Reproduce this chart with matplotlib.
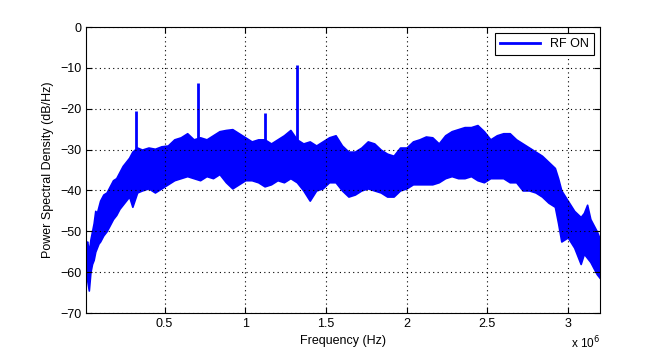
import matplotlib.pyplot as plt
import numpy as np

plt.rcParams['font.family'] = ['Liberation Sans', 'DejaVu Sans']

# frequency (MHz) and envelope of the PSD trace (dB/Hz)
freq_mhz = [0.0125, 0.02, 0.03, 0.04, 0.05, 0.06, 0.07, 0.08, 0.09, 0.10, 0.12, 0.14, 0.16, 0.18,
            0.20, 0.22, 0.24, 0.26, 0.28, 0.30, 0.33, 0.36, 0.40, 0.44, 0.48, 0.52, 0.56, 0.60,
            0.64, 0.68, 0.72, 0.76, 0.80, 0.84, 0.88, 0.92, 0.96, 1.00, 1.04, 1.08, 1.12, 1.16,
            1.20, 1.24, 1.28, 1.32, 1.36, 1.40, 1.44, 1.48, 1.52, 1.56, 1.60, 1.64, 1.68, 1.72,
            1.76, 1.80, 1.84, 1.88, 1.92, 1.96, 2.00, 2.04, 2.08, 2.12, 2.16, 2.20, 2.24, 2.28,
            2.32, 2.36, 2.40, 2.44, 2.48, 2.52, 2.56, 2.60, 2.64, 2.68, 2.72, 2.76, 2.80, 2.84,
            2.88, 2.92, 2.94, 2.96, 3.00, 3.04, 3.08, 3.10, 3.12, 3.14, 3.16, 3.18, 3.20]

psd_upper = [-53, -52.5, -55, -52, -50, -48, -45, -45.5, -44, -42.5, -41, -40.5, -39, -37.5,
             -37, -35.5, -34, -33, -32, -30.5, -29.5, -30, -29.5, -29.8, -29.2, -29, -27.5, -27,
             -26, -27.5, -27, -27.5, -26.5, -25.5, -25.2, -25, -26, -27, -28, -27.5, -27.5, -28.5,
             -27.5, -26.5, -25.2, -27.5, -28.5, -28, -29, -28, -27, -26.5, -29, -30.5, -30.5, -29.5,
             -28, -28.5, -30, -31, -31.5, -29.5, -29.5, -28, -27.5, -26.8, -27, -28.5, -26.5, -25.5,
             -25, -24.5, -24.5, -24, -25.5, -27.5, -26.5, -26, -26, -27.5, -28.5, -29.5, -30.5, -31.5,
             -33, -34.5, -37, -40, -42.5, -45, -46.5, -45.5, -43.5, -47, -48.5, -50, -52]

psd_lower = [-61, -62, -64.5, -60, -58, -57, -55, -54, -53, -52.5, -51, -50, -48.5, -47,
             -46, -44.5, -43.5, -42.5, -41.5, -44, -40.5, -40, -39.5, -40.5, -39.5, -38.5, -37.5, -37,
             -36.5, -37, -37.5, -36.5, -37, -36, -38, -39.5, -38.5, -37.5, -37.5, -38, -39, -38.5,
             -37.5, -38, -37, -38, -40, -42.5, -40, -39.5, -38, -38, -40, -41.5, -41, -40,
             -39.5, -40, -40.5, -41.5, -41.5, -40, -39.5, -38.5, -38.5, -38.5, -38.5, -38, -37, -36.5,
             -37, -37, -36.5, -37.5, -38, -37, -37, -37, -38, -38, -40, -40, -40.5, -41.5,
             -43, -44, -48, -52.5, -51.5, -54, -58, -55.5, -56.5, -57.5, -59, -60.5, -61.5]

# narrow tones sticking out of the noise floor
spike_mhz = [0.321, 0.71, 1.122, 1.32]
spike_db = [-20.5, -13.8, -21, -9.3]
spike_base = [-32, -28, -29, -28]

f = np.array(freq_mhz) * 1e6
blue = (0, 0, 1)

fig = plt.figure(figsize=(6.63, 3.54), dpi=100)
ax = fig.add_axes([0.1297, 0.1158, 0.7753, 0.8079])

ax.fill_between(f, psd_lower, psd_upper, color=blue, linewidth=1.2, edgecolor=blue)
ax.vlines(np.array(spike_mhz) * 1e6, spike_base, spike_db, color=blue, linewidth=2)
ax.plot([], [], color=blue, linewidth=2, label='RF ON')

ax.set_xlim(0.0125e6, 3.2e6)
ax.set_ylim(-70, 0)
ticks = [0.5, 1, 1.5, 2, 2.5, 3]
ax.set_xticks([t * 1e6 for t in ticks])
ax.set_xticklabels(['0.5', '1', '1.5', '2', '2.5', '3'])
ax.set_yticks(range(-70, 1, 10))
ax.tick_params(direction='in', labelsize=9, length=4, top=True, right=True)
ax.grid(True, color='k', linestyle=(0, (1, 3)), linewidth=0.8)
ax.set_axisbelow(False)

ax.set_xlabel('Frequency (Hz)', fontsize=9, labelpad=4)
ax.set_ylabel('Power Spectral Density (dB/Hz)', fontsize=9, labelpad=4)
ax.text(1.0, -0.075, 'x 10$^{6}$', transform=ax.transAxes, ha='right', va='top', fontsize=8.5)

leg = ax.legend(loc='upper right', fontsize=9, fancybox=False, framealpha=1,
                edgecolor='k', handlelength=3.2, borderaxespad=0.5)
leg.get_frame().set_linewidth(0.8)

plt.savefig('out.png', dpi=100)
